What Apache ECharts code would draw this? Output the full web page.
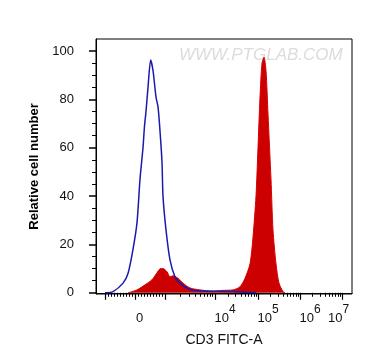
<!DOCTYPE html>
<html>
<head>
<meta charset="utf-8">
<script src="https://cdn.jsdelivr.net/npm/echarts@6/dist/echarts.min.js"></script>
<style>
html,body{margin:0;padding:0;background:#fff;}
#chart{width:373px;height:364px;}
</style>
</head>
<body>
<div id="chart"></div>
<script>
// ---- data (x in display channel units of the biexponential axis, y = relative cell number)
const isoChannel = [9,17,27,32,37,41,44,47,48.5,50,52,54.7,57,60,62,64,66,67,70,74,79,84,91,101,120,137,150,160];
const isoCount   = [0,0.5,4,8,18,29,47,60,69,75,85,96.3,92,81,77,67,54,40,26,13.6,6.6,4,2,0.8,0.6,0.5,0.2,0];

const cd3Channel = [32,41,49,56,61,64,67,71,74,77,82,87,94,104,117,127,137,144,149,154,157,160,162,164,166,168,170,172,175,177,180,183,187,189];
const cd3Count   = [0,1.2,3.3,5.4,8.3,9.9,10,8.7,6.6,7,6,4,2,1.2,0.7,1,1.2,2.5,6,12,23,40,60,81,95,97.5,92,74,47,26,12,4,0.5,0];

// axis structure
const linearTicks = [9,39,69];            // -10^3, 0, 10^3
const decadeTicks = [69,119,162,204,246]; // 10^3 .. 10^7
const labelValues = [39,119,162,204,246];
const labelTexts  = ['0','10^4','10^5','10^6','10^7'];
const yMajor = [0,20,40,60,80,100];
const yMinor = [5,10,15,25,30,35,45,50,55,65,70,75,85,90,95];

// minor x ticks: linear region every 100 units, log ticks within decades
const xMinor = [];
for (let v = 9; v <= 69; v += 3) if (linearTicks.indexOf(v) < 0) xMinor.push(v);
for (let i = 0; i < decadeTicks.length - 1; i++) {
  const a = decadeTicks[i], b = decadeTicks[i + 1];
  for (let k = 2; k <= 9; k++) xMinor.push(a + (b - a) * Math.log10(k));
}
const xMajor = linearTicks.concat(decadeTicks.slice(1));

const iso = isoChannel.map((x, i) => [x, isoCount[i]]);
const cd3 = cd3Channel.map((x, i) => [x, cd3Count[i]]);

const FONT = 'Arial, "Liberation Sans", sans-serif';

const chart = echarts.init(document.getElementById('chart'), null, {renderer: 'canvas'});
chart.setOption({
  animation: false,
  backgroundColor: '#fff',
  grid: {left: 96, right: 21, top: 39, bottom: 70, show: true, borderColor: '#000', borderWidth: 1},
  graphic: [{
    type: 'text', left: 179, top: 47, z: 0,
    style: {text: 'WWW.PTGLAB.COM', font: 'italic 17px ' + FONT, fill: '#dcdcdc'}
  }],
  xAxis: [{
    type: 'value', min: 0, max: 256,
    name: 'CD3 FITC-A', nameLocation: 'middle', nameGap: 39,
    nameTextStyle: {fontFamily: FONT, fontSize: 14, color: '#111'},
    axisLine: {show: true, lineStyle: {color: '#000', width: 1}},
    axisTick: {show: true, length: 7, customValues: xMajor, lineStyle: {color: '#000', width: 1.2}},
    splitLine: {show: false},
    axisLabel: {
      show: true, margin: 10, customValues: labelValues, color: '#111', fontFamily: FONT,
      formatter: function (v) {
        const idx = labelValues.indexOf(Math.round(v));
        const t = labelTexts[idx];
        if (!t) return '';
        if (t.indexOf('^') < 0) return '{z|' + t + '}';
        const parts = t.split('^');
        const tag = idx === labelValues.length - 1 ? 'e' : 'n';
        return '{' + tag + '|' + parts[0] + '}{' + tag + 's|' + parts[1] + '}';
      },
      rich: {
        z:  {fontSize: 13, fontFamily: FONT, color: '#111', padding: [8, 0, 0, 9], verticalAlign: 'bottom'},
        n:  {fontSize: 13, fontFamily: FONT, color: '#111', padding: [8, 0, 0, 20], verticalAlign: 'bottom'},
        ns: {fontSize: 12, fontFamily: FONT, color: '#111', padding: [0, 0, 9, 0], verticalAlign: 'top'},
        e:  {fontSize: 13, fontFamily: FONT, color: '#111', padding: [8, 0, 0, 0], verticalAlign: 'bottom'},
        es: {fontSize: 12, fontFamily: FONT, color: '#111', padding: [0, 7, 9, 0], verticalAlign: 'top'}
      }
    }
  }, {
    type: 'value', min: 0, max: 256, position: 'bottom',
    axisLine: {show: false},
    axisTick: {show: true, length: 4, customValues: xMinor, lineStyle: {color: '#000', width: 1}},
    axisLabel: {show: false},
    splitLine: {show: false}
  }],
  yAxis: [{
    type: 'value', min: -0.5, max: 105,
    name: 'Relative cell number', nameLocation: 'middle', nameGap: 54,
    nameTextStyle: {fontFamily: FONT, fontSize: 13, fontWeight: 'bold', color: '#000'},
    axisLine: {show: true, lineStyle: {color: '#000', width: 1}},
    axisTick: {show: true, length: 7, customValues: yMajor, lineStyle: {color: '#000', width: 1.5}},
    axisLabel: {show: true, margin: 22, customValues: yMajor, fontFamily: FONT, fontSize: 13, color: '#111'},
    splitLine: {show: false}
  }, {
    type: 'value', min: -0.5, max: 105, position: 'left',
    axisLine: {show: false},
    axisTick: {show: true, length: 4, customValues: yMinor, lineStyle: {color: '#000', width: 1}},
    axisLabel: {show: false},
    splitLine: {show: false}
  }],
  series: [{
    type: 'line', name: 'CD3', data: cd3, xAxisIndex: 0, yAxisIndex: 0,
    smooth: 0.25, showSymbol: false, z: 3,
    lineStyle: {color: '#d80000', width: 1},
    areaStyle: {color: '#cc0000', opacity: 1}
  }, {
    type: 'line', name: 'Isotype', data: iso, xAxisIndex: 0, yAxisIndex: 0,
    smooth: 0.25, showSymbol: false, z: 4,
    lineStyle: {color: '#1a1ab0', width: 1.5}
  }]
});
</script>
</body>
</html>
